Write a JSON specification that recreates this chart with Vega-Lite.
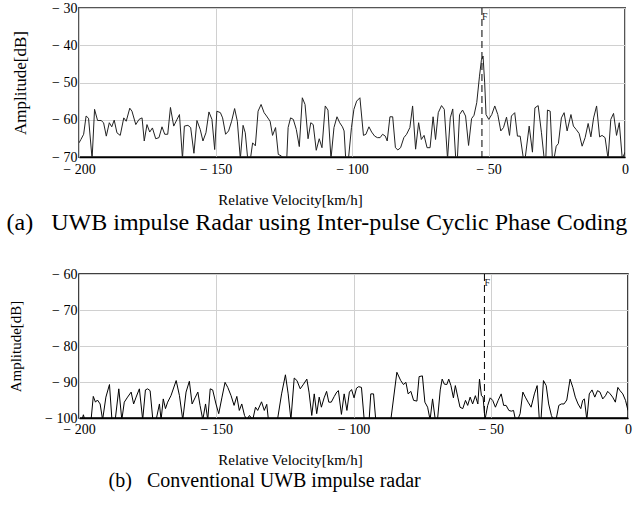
{
  "$schema": "https://vega.github.io/schema/vega-lite/v6.json",
  "padding": {"left": 5, "top": 0, "right": 0, "bottom": 0},
  "background": "white",
  "spacing": 30,
  "config": {
    "font": "Liberation Serif",
    "axis": {
      "grid": true,
      "gridColor": "#d0d0d0",
      "gridWidth": 1,
      "ticks": false,
      "labelColor": "black",
      "labelFontSize": 14,
      "labelFlush": false,
      "labelOverlap": false,
      "labelBound": false,
      "titleColor": "black",
      "titleFontWeight": "normal",
      "domainColor": "black"
    },
    "title": {"fontWeight": "normal", "color": "black"}
  },
  "datasets": {
    "radarA": [
      {"v": -200, "amp": -66.2}, {"v": -199.3, "amp": -65.3}, {"v": -198.3, "amp": -63.9}, {"v": -197.4, "amp": -59}, {"v": -196.5, "amp": -59.6},
      {"v": -195.2, "amp": -70.5}, {"v": -194.3, "amp": -57.2}, {"v": -193.2, "amp": -60.2}, {"v": -191.9, "amp": -60.2}, {"v": -191.0, "amp": -60.8},
      {"v": -190.0, "amp": -64.4}, {"v": -188.9, "amp": -60.8}, {"v": -188.0, "amp": -61.9}, {"v": -187.1, "amp": -60.1}, {"v": -186.1, "amp": -63.5},
      {"v": -184.9, "amp": -64.2}, {"v": -183.6, "amp": -59.5}, {"v": -182.7, "amp": -60.4}, {"v": -181.4, "amp": -56.9}, {"v": -180.6, "amp": -57.7},
      {"v": -179.2, "amp": -61.3}, {"v": -178.0, "amp": -59.9}, {"v": -176.9, "amp": -59.5}, {"v": -176.1, "amp": -65.7}, {"v": -175.1, "amp": -61.3},
      {"v": -174.1, "amp": -63.3}, {"v": -173.1, "amp": -62.2}, {"v": -171.9, "amp": -65.1}, {"v": -170.7, "amp": -64.8}, {"v": -169.6, "amp": -61.9},
      {"v": -168.6, "amp": -63.9}, {"v": -167.5, "amp": -63.9}, {"v": -166.5, "amp": -56.7}, {"v": -165.3, "amp": -61.7}, {"v": -164.1, "amp": -59.9},
      {"v": -163.2, "amp": -58.6}, {"v": -162.1, "amp": -70.5}, {"v": -161.4, "amp": -61.7}, {"v": -160.1, "amp": -61.5}, {"v": -159.1, "amp": -62.1},
      {"v": -157.9, "amp": -69}, {"v": -156.8, "amp": -60.2}, {"v": -155.6, "amp": -62.6}, {"v": -154.6, "amp": -65.7}, {"v": -153.5, "amp": -63.5},
      {"v": -152.4, "amp": -57.9}, {"v": -151.3, "amp": -59.9}, {"v": -150.3, "amp": -68}, {"v": -149.5, "amp": -57.7}, {"v": -148.2, "amp": -58.1},
      {"v": -147.4, "amp": -59.5}, {"v": -146.3, "amp": -63.9}, {"v": -145.2, "amp": -63}, {"v": -144.1, "amp": -60.4}, {"v": -143.0, "amp": -57},
      {"v": -142.0, "amp": -60.4}, {"v": -140.9, "amp": -70.5}, {"v": -139.9, "amp": -61.5}, {"v": -139.1, "amp": -63.5}, {"v": -138.2, "amp": -70.5},
      {"v": -137.2, "amp": -70.5}, {"v": -136.4, "amp": -66.2}, {"v": -135.4, "amp": -67}, {"v": -134.4, "amp": -57.7}, {"v": -133.3, "amp": -55.9},
      {"v": -132.2, "amp": -58.1}, {"v": -131.3, "amp": -59}, {"v": -130.0, "amp": -60.4}, {"v": -129.1, "amp": -64.2}, {"v": -128.0, "amp": -62.1},
      {"v": -127.0, "amp": -69.3}, {"v": -125.9, "amp": -69.7}, {"v": -124.9, "amp": -70.5}, {"v": -123.9, "amp": -70.5}, {"v": -123.4, "amp": -62.1},
      {"v": -122.5, "amp": -59.5}, {"v": -121.5, "amp": -59.9}, {"v": -120.4, "amp": -62.6}, {"v": -119.3, "amp": -67.2}, {"v": -118.2, "amp": -54.1},
      {"v": -117.2, "amp": -55.9}, {"v": -116.1, "amp": -65.1}, {"v": -115.1, "amp": -60.8}, {"v": -114.2, "amp": -61.3}, {"v": -113.1, "amp": -68.2},
      {"v": -112.0, "amp": -65.1}, {"v": -111.0, "amp": -67.5}, {"v": -109.8, "amp": -56.3}, {"v": -108.8, "amp": -57.4}, {"v": -107.7, "amp": -70.5},
      {"v": -106.6, "amp": -62.1}, {"v": -105.5, "amp": -59.2}, {"v": -104.5, "amp": -60.8}, {"v": -103.5, "amp": -61.9}, {"v": -102.9, "amp": -63},
      {"v": -102.3, "amp": -70.5}, {"v": -101.3, "amp": -70.5}, {"v": -100.2, "amp": -62.1}, {"v": -99.3, "amp": -57.2}, {"v": -98.3, "amp": -55},
      {"v": -97.1, "amp": -54.1}, {"v": -95.8, "amp": -64.2}, {"v": -94.9, "amp": -63.9}, {"v": -93.8, "amp": -61.9}, {"v": -92.8, "amp": -63.3},
      {"v": -91.7, "amp": -64.4}, {"v": -90.7, "amp": -64.8}, {"v": -89.7, "amp": -64.8}, {"v": -88.8, "amp": -63.9}, {"v": -87.8, "amp": -64.4},
      {"v": -87.1, "amp": -65.7}, {"v": -86.1, "amp": -59.2}, {"v": -85.1, "amp": -59.2}, {"v": -84.1, "amp": -67.5}, {"v": -83.2, "amp": -68.1},
      {"v": -82.2, "amp": -67.5}, {"v": -81.0, "amp": -64.8}, {"v": -80.0, "amp": -63.9}, {"v": -78.8, "amp": -62.1}, {"v": -77.8, "amp": -56.3},
      {"v": -76.7, "amp": -67.9}, {"v": -75.6, "amp": -60.8}, {"v": -74.6, "amp": -65.3}, {"v": -73.6, "amp": -64.2}, {"v": -72.5, "amp": -67.5},
      {"v": -71.4, "amp": -67.5}, {"v": -70.3, "amp": -59.2}, {"v": -69.4, "amp": -65.3}, {"v": -68.4, "amp": -58.1}, {"v": -67.2, "amp": -56.2},
      {"v": -66.2, "amp": -57.2}, {"v": -65.0, "amp": -70.5}, {"v": -64.0, "amp": -59.5}, {"v": -63.1, "amp": -57.1}, {"v": -62.0, "amp": -70.5},
      {"v": -61.4, "amp": -70.5}, {"v": -60.6, "amp": -58.6}, {"v": -59.5, "amp": -57.4}, {"v": -58.4, "amp": -59}, {"v": -57.3, "amp": -66.9},
      {"v": -56.2, "amp": -59.7}, {"v": -55.3, "amp": -58.8}, {"v": -54.3, "amp": -55.4}, {"v": -53.3, "amp": -48.3}, {"v": -52.6, "amp": -44},
      {"v": -52.0, "amp": -42.9}, {"v": -51.4, "amp": -50.1}, {"v": -50.9, "amp": -58.6}, {"v": -49.9, "amp": -59.9}, {"v": -48.8, "amp": -58.6},
      {"v": -47.7, "amp": -56.3}, {"v": -46.6, "amp": -58.6}, {"v": -45.5, "amp": -63}, {"v": -44.5, "amp": -62.1}, {"v": -43.4, "amp": -59.3},
      {"v": -42.3, "amp": -64.2}, {"v": -41.6, "amp": -59}, {"v": -40.4, "amp": -58.1}, {"v": -39.4, "amp": -64.4}, {"v": -38.4, "amp": -64.4},
      {"v": -37.2, "amp": -70.5}, {"v": -36.6, "amp": -70.5}, {"v": -35.1, "amp": -61.7}, {"v": -33.9, "amp": -68.7}, {"v": -33.0, "amp": -56.8},
      {"v": -31.8, "amp": -56.2}, {"v": -30.6, "amp": -63.5}, {"v": -29.6, "amp": -70.5}, {"v": -29.0, "amp": -70.5}, {"v": -28.4, "amp": -57.4},
      {"v": -27.4, "amp": -57.7}, {"v": -26.6, "amp": -70.5}, {"v": -26.0, "amp": -70.5}, {"v": -25.2, "amp": -67.1}, {"v": -24.4, "amp": -66.4},
      {"v": -23.3, "amp": -59.5}, {"v": -22.3, "amp": -58.1}, {"v": -21.2, "amp": -63}, {"v": -19.8, "amp": -58.6}, {"v": -18.9, "amp": -61.7},
      {"v": -17.9, "amp": -62.6}, {"v": -16.8, "amp": -63.7}, {"v": -15.7, "amp": -67.1}, {"v": -14.6, "amp": -64.8}, {"v": -13.5, "amp": -61},
      {"v": -12.5, "amp": -64.6}, {"v": -11.5, "amp": -59.5}, {"v": -10.4, "amp": -56.3}, {"v": -9.3, "amp": -64.6}, {"v": -8.4, "amp": -64.2},
      {"v": -7.3, "amp": -64.8}, {"v": -6.2, "amp": -70.5}, {"v": -5.2, "amp": -59.9}, {"v": -4.2, "amp": -58.3}, {"v": -3.1, "amp": -64.2},
      {"v": -2.1, "amp": -60.8}, {"v": -1.0, "amp": -70.5}, {"v": 0, "amp": -68.7}
    ],
    "radarB": [
      {"v": -200, "amp": -100.5}, {"v": -198.9, "amp": -100.5}, {"v": -198.4, "amp": -99.1}, {"v": -197.9, "amp": -100.5}, {"v": -195.6, "amp": -100.5},
      {"v": -194.8, "amp": -94}, {"v": -194.0, "amp": -95.6}, {"v": -193.3, "amp": -95}, {"v": -192.3, "amp": -96.1}, {"v": -191.4, "amp": -100.5},
      {"v": -190.2, "amp": -94.2}, {"v": -188.9, "amp": -90.7}, {"v": -188.0, "amp": -100.5}, {"v": -186.8, "amp": -100.5}, {"v": -185.5, "amp": -91.9},
      {"v": -184.4, "amp": -100.5}, {"v": -183.5, "amp": -95.6}, {"v": -182.3, "amp": -94.2}, {"v": -181.0, "amp": -92.8}, {"v": -180.1, "amp": -96.1},
      {"v": -179.2, "amp": -94.2}, {"v": -178.0, "amp": -91.9}, {"v": -176.8, "amp": -100.5}, {"v": -175.8, "amp": -92.2}, {"v": -175.0, "amp": -91.9},
      {"v": -174.1, "amp": -92.4}, {"v": -173.1, "amp": -100.5}, {"v": -171.9, "amp": -100.5}, {"v": -170.7, "amp": -96.1}, {"v": -170.1, "amp": -100.5},
      {"v": -169.3, "amp": -94.7}, {"v": -168.5, "amp": -97.4}, {"v": -167.7, "amp": -95.6}, {"v": -166.5, "amp": -93.8}, {"v": -164.6, "amp": -89.6},
      {"v": -163.4, "amp": -93.8}, {"v": -162.2, "amp": -100.5}, {"v": -161.0, "amp": -92.8}, {"v": -159.8, "amp": -89.8}, {"v": -158.8, "amp": -96.1},
      {"v": -157.6, "amp": -94.2}, {"v": -156.7, "amp": -92.8}, {"v": -155.9, "amp": -96.5}, {"v": -154.9, "amp": -100.5}, {"v": -153.9, "amp": -96.1},
      {"v": -153.1, "amp": -100.5}, {"v": -152.2, "amp": -91.9}, {"v": -151.3, "amp": -92.2}, {"v": -150.1, "amp": -96.1}, {"v": -149.1, "amp": -98.8},
      {"v": -147.9, "amp": -94.2}, {"v": -146.8, "amp": -90.1}, {"v": -145.8, "amp": -91.5}, {"v": -144.6, "amp": -93.8}, {"v": -143.5, "amp": -96.5},
      {"v": -142.5, "amp": -94}, {"v": -141.6, "amp": -97.9}, {"v": -140.7, "amp": -96.1}, {"v": -139.7, "amp": -99.3}, {"v": -138.9, "amp": -100.5},
      {"v": -137.9, "amp": -99.3}, {"v": -136.7, "amp": -100.5}, {"v": -135.7, "amp": -97}, {"v": -134.9, "amp": -97.9}, {"v": -133.5, "amp": -95.5},
      {"v": -132.5, "amp": -97.9}, {"v": -131.6, "amp": -96.2}, {"v": -131.0, "amp": -100.5}, {"v": -127.7, "amp": -100.5}, {"v": -126.2, "amp": -93.3},
      {"v": -124.8, "amp": -88}, {"v": -123.8, "amp": -93.3}, {"v": -122.8, "amp": -100.5}, {"v": -121.6, "amp": -88.9}, {"v": -120.6, "amp": -89.6},
      {"v": -119.4, "amp": -91.9}, {"v": -118.2, "amp": -90.6}, {"v": -117.0, "amp": -89.2}, {"v": -116.2, "amp": -92.8}, {"v": -115.2, "amp": -99.3},
      {"v": -114.3, "amp": -93.3}, {"v": -113.4, "amp": -98.8}, {"v": -112.5, "amp": -94.2}, {"v": -111.7, "amp": -97}, {"v": -110.7, "amp": -94.4},
      {"v": -109.8, "amp": -92.6}, {"v": -109.0, "amp": -95.6}, {"v": -108.1, "amp": -95.6}, {"v": -107.0, "amp": -94}, {"v": -106.1, "amp": -92.8},
      {"v": -105.5, "amp": -92.4}, {"v": -104.4, "amp": -99}, {"v": -103.4, "amp": -93.3}, {"v": -102.4, "amp": -97.9}, {"v": -101.5, "amp": -92.8},
      {"v": -100.7, "amp": -92.1}, {"v": -99.8, "amp": -94.4}, {"v": -98.9, "amp": -91.7}, {"v": -98.1, "amp": -91.3}, {"v": -97.1, "amp": -91.5},
      {"v": -96.1, "amp": -100.5}, {"v": -94.3, "amp": -100.5}, {"v": -93.7, "amp": -93.3}, {"v": -92.7, "amp": -93.3}, {"v": -91.9, "amp": -100.5},
      {"v": -86.4, "amp": -100.5}, {"v": -84.2, "amp": -87.3}, {"v": -82.8, "amp": -89.6}, {"v": -81.8, "amp": -90.7}, {"v": -80.9, "amp": -90.1},
      {"v": -80.1, "amp": -93.3}, {"v": -79.1, "amp": -92.6}, {"v": -78.1, "amp": -95.1}, {"v": -76.9, "amp": -95.3}, {"v": -76.1, "amp": -88.5},
      {"v": -74.9, "amp": -88.3}, {"v": -74.0, "amp": -95.6}, {"v": -73.0, "amp": -97}, {"v": -72.1, "amp": -100.5}, {"v": -71.2, "amp": -94.7},
      {"v": -70.2, "amp": -100.5}, {"v": -69.4, "amp": -100.5}, {"v": -68.4, "amp": -92.2}, {"v": -67.7, "amp": -89.2}, {"v": -66.9, "amp": -90.6},
      {"v": -66.0, "amp": -90.7}, {"v": -65.3, "amp": -89.2}, {"v": -64.5, "amp": -91}, {"v": -63.6, "amp": -94.4}, {"v": -62.9, "amp": -91},
      {"v": -62.0, "amp": -94.2}, {"v": -61.2, "amp": -97}, {"v": -60.2, "amp": -97.4}, {"v": -59.2, "amp": -95.1}, {"v": -58.4, "amp": -96.5},
      {"v": -57.5, "amp": -94.2}, {"v": -56.6, "amp": -96.1}, {"v": -55.6, "amp": -93.8}, {"v": -54.7, "amp": -96.1}, {"v": -54.1, "amp": -89.2},
      {"v": -53.4, "amp": -93.8}, {"v": -52.8, "amp": -94.2}, {"v": -52.1, "amp": -100.5}, {"v": -51.1, "amp": -96.5}, {"v": -50.2, "amp": -94.4},
      {"v": -49.3, "amp": -95.1}, {"v": -48.3, "amp": -97}, {"v": -47.3, "amp": -95.1}, {"v": -46.2, "amp": -93.3}, {"v": -45.3, "amp": -96.5},
      {"v": -44.4, "amp": -96.5}, {"v": -43.4, "amp": -97.9}, {"v": -42.5, "amp": -98.1}, {"v": -41.7, "amp": -97.9}, {"v": -41.0, "amp": -100.5},
      {"v": -40.2, "amp": -100.5}, {"v": -39.3, "amp": -98.8}, {"v": -38.3, "amp": -92.8}, {"v": -37.4, "amp": -94.2}, {"v": -36.4, "amp": -95.6},
      {"v": -35.3, "amp": -97}, {"v": -34.1, "amp": -93.3}, {"v": -33.1, "amp": -91}, {"v": -32.3, "amp": -100.5}, {"v": -31.7, "amp": -100.5},
      {"v": -30.8, "amp": -89.6}, {"v": -29.8, "amp": -91}, {"v": -28.9, "amp": -96.1}, {"v": -27.9, "amp": -99.3}, {"v": -27.2, "amp": -100.5},
      {"v": -26.2, "amp": -100.5}, {"v": -25.2, "amp": -96.5}, {"v": -24.3, "amp": -96.1}, {"v": -23.3, "amp": -96.1}, {"v": -22.3, "amp": -95},
      {"v": -21.1, "amp": -89.2}, {"v": -20.1, "amp": -91.5}, {"v": -19.2, "amp": -94.2}, {"v": -18.2, "amp": -96.1}, {"v": -17.2, "amp": -97.4},
      {"v": -16.5, "amp": -95.1}, {"v": -15.9, "amp": -94.7}, {"v": -15.0, "amp": -100.5}, {"v": -14.1, "amp": -93.3}, {"v": -13.1, "amp": -92.2},
      {"v": -12.1, "amp": -94.2}, {"v": -11.1, "amp": -92.4}, {"v": -10.2, "amp": -92.8}, {"v": -9.2, "amp": -94.7}, {"v": -8.2, "amp": -93.8},
      {"v": -7.4, "amp": -92.6}, {"v": -6.5, "amp": -93.3}, {"v": -5.6, "amp": -94.2}, {"v": -4.6, "amp": -95.6}, {"v": -3.7, "amp": -91.5},
      {"v": -2.9, "amp": -92.4}, {"v": -1.9, "amp": -93.3}, {"v": -0.9, "amp": -95.1}, {"v": 0, "amp": -97.9}
    ]
  },
  "vconcat": [
    {
      "width": 546,
      "height": 149,
      "view": {"stroke": "#555", "strokeWidth": 2},
      "title": {
        "text": "(a)\u00a0\u00a0 UWB impulse Radar using Inter-pulse Cyclic Phase Coding",
        "orient": "bottom", "anchor": "start", "frame": "bounds",
        "fontSize": 24, "dx": -5, "offset": 4
      },
      "layer": [
        {
          "data": {"name": "radarA"},
          "mark": {"type": "line", "color": "#222", "strokeWidth": 1, "clip": true},
          "encoding": {
            "x": {
              "field": "v", "type": "quantitative",
              "scale": {"domain": [-200, 0], "nice": false, "zero": false},
              "axis": {
                "title": "Relative Velocity[km/h]", "values": [-200, -150, -100, -50, 0], "tickCount": 5, "grid": true,
                "labelExpr": "datum.value < 0 ? '\u2212 ' + abs(datum.value) : '0'",
                "labelPadding": 5, "domainWidth": 1.5,
                "titleFontSize": 15, "titlePadding": 16, "titleX": 211
              }
            },
            "y": {
              "field": "amp", "type": "quantitative",
              "scale": {"domain": [-70, -30], "nice": false, "zero": false},
              "axis": {
                "title": "Amplitude[dB]", "values": [-70, -60, -50, -40, -30], "tickCount": 5, "grid": true,
                "labelExpr": "'\u2212 ' + abs(datum.value)",
                "labelPadding": 2, "domain": false,
                "titleFontSize": 17, "titlePadding": 22
              }
            }
          }
        },
        {
          "data": {"values": [{}]},
          "mark": {"type": "rule", "color": "black", "strokeWidth": 1, "strokeDash": [7, 4]},
          "encoding": {"x": {"datum": -52.4}}
        },
        {
          "data": {"values": [{}]},
          "mark": {"type": "text", "align": "left", "baseline": "middle", "fontSize": 10, "color": "#222"},
          "encoding": {"x": {"datum": -52.4}, "y": {"datum": -32.4}, "text": {"value": "F"}}
        }
      ]
    },
    {
      "width": 549,
      "height": 144,
      "view": {"stroke": "black", "strokeWidth": 1.5},
      "title": {
        "text": "(b)\u00a0\u00a0 Conventional UWB impulse radar",
        "orient": "bottom", "anchor": "start", "frame": "bounds",
        "fontSize": 20, "dx": 100, "offset": 4
      },
      "layer": [
        {
          "data": {"name": "radarB"},
          "mark": {"type": "line", "color": "black", "strokeWidth": 1, "clip": true},
          "encoding": {
            "x": {
              "field": "v", "type": "quantitative",
              "scale": {"domain": [-200, 0], "nice": false, "zero": false},
              "axis": {
                "title": "Relative Velocity[km/h]", "values": [-200, -150, -100, -50, 0], "tickCount": 5, "grid": true,
                "labelExpr": "datum.value < 0 ? '\u2212 ' + abs(datum.value) : '0'",
                "labelPadding": 4, "domainWidth": 1.5,
                "titleFontSize": 15, "titlePadding": 16, "titleX": 211
              }
            },
            "y": {
              "field": "amp", "type": "quantitative",
              "scale": {"domain": [-100, -60], "nice": false, "zero": false},
              "axis": {
                "title": "Amplitude[dB]", "values": [-100, -90, -80, -70, -60], "tickCount": 5, "grid": true,
                "labelExpr": "'\u2212 ' + abs(datum.value)",
                "labelPadding": 2, "domain": false,
                "titleFontSize": 15, "titlePadding": 21
              }
            }
          }
        },
        {
          "data": {"values": [{}]},
          "mark": {"type": "rule", "color": "black", "strokeWidth": 1, "strokeDash": [7, 4]},
          "encoding": {"x": {"datum": -52.3}}
        },
        {
          "data": {"values": [{}]},
          "mark": {"type": "text", "align": "left", "baseline": "middle", "fontSize": 10, "color": "#222"},
          "encoding": {"x": {"datum": -52.3}, "y": {"datum": -62.4}, "text": {"value": "F"}}
        }
      ]
    }
  ]
}
